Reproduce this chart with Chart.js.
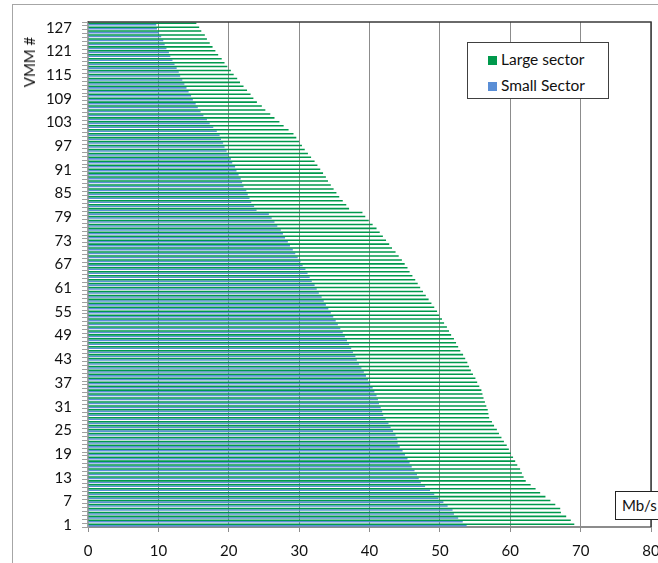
<!DOCTYPE html>
<html>
<head>
<meta charset="utf-8">
<script src="https://cdn.jsdelivr.net/npm/chart.js@4"></script>
<style>
  html, body { margin: 0; padding: 0; background: #fff; overflow: hidden; }
  body { width: 658px; height: 563px; position: relative; font-family: Lato, "Open Sans", sans-serif; }
  #frame { position: absolute; left: 12px; top: 4px; width: 720px; height: 620px; border: 1.5px solid #a6a6a6; }
  #wrap { position: absolute; left: 0; top: 0; width: 700px; height: 563px; }
  #ytitle { position: absolute; left: 29px; top: 62px; transform: translate(-50%, -50%) rotate(-90deg); font-size: 15px; color: #111; white-space: nowrap; }
  #legend { position: absolute; left: 467px; top: 42px; width: 140px; height: 55px; border: 1px solid #404040; background: #fff; }
  .item { position: absolute; left: 20px; font-size: 15.5px; color: #111; white-space: nowrap; line-height: 15px; }
  .item i { display: inline-block; width: 9px; height: 9px; margin-right: 4px; vertical-align: 0px; }
  #unit { position: absolute; left: 615px; top: 491px; width: 100px; height: 27px; border: 1px solid #222; background: #fff; font-size: 15px; line-height: 27px; padding-left: 6px; color: #111; }
</style>
</head>
<body>
<div id="frame"></div>
<div id="wrap"><canvas id="chart" width="700" height="563"></canvas></div>
<div id="ytitle">VMM #</div>
<div id="legend">
  <div class="item" style="top:9px"><i style="background:#00994c"></i>Large sector</div>
  <div class="item" style="top:35px"><i style="background:#5a8ed6"></i>Small Sector</div>
</div>
<div id="unit">Mb/s</div>
<script>
// VMM 1 .. 128, bottom to top
const vmmIds = Array.from({ length: 128 }, (_, i) => String(i + 1));
const shownTicks = ['1', '7', '13', '19', '25', '31', '37', '43', '49', '55', '61', '67', '73', '79', '85', '91', '97', '103', '109', '115', '121', '127'];

// throughput per VMM, Mb/s
const largeSector = [
  69.1, 68.6, 67.95, 67.2, 67.1, 66.4, 65.7, 65.0, 64.25, 63.6, 62.9, 62.2, 61.9, 61.65, 61.4, 61.0,
  60.7, 60.4, 60.1, 59.8, 59.5, 59.1, 58.75, 58.4, 58.1, 57.7, 57.4, 57.0, 56.9, 56.8, 56.6, 56.4,
  56.2, 56.05, 55.9, 55.6, 55.3, 55.05, 54.7, 54.4, 54.15, 53.9, 53.6, 53.3, 52.9, 52.6, 52.3, 52.0,
  51.6, 51.3, 51.0, 50.6, 50.3, 49.9, 49.6, 49.2, 48.8, 48.4, 48.0, 47.6, 47.2, 46.85, 46.5, 46.1,
  45.7, 45.4, 45.0, 44.6, 44.15, 43.7, 43.2, 42.8, 42.35, 41.9, 41.45, 41.0, 40.45, 39.9, 39.4, 39.0,
  37.1, 36.7, 36.2, 35.7, 35.3, 34.9, 34.5, 34.1, 33.8, 33.4, 33.0, 32.6, 32.2, 31.7, 31.25, 30.8,
  30.4, 30.0, 29.6, 29.2, 28.5, 27.8, 27.2, 26.5, 25.9, 25.2, 24.7, 24.0, 23.5, 23.1, 22.6, 22.1,
  21.6, 21.2, 20.7, 20.3, 19.8, 19.4, 19.0, 18.5, 18.1, 17.7, 17.3, 16.9, 16.6, 16.1, 15.8, 15.4
];
const smallSector = [
  53.8, 53.25, 52.6, 52.0, 51.8, 51.1, 50.5, 49.8, 49.2, 48.6, 47.9, 47.3, 47.0, 46.75, 46.4, 46.0,
  45.7, 45.4, 45.05, 44.7, 44.3, 44.0, 43.95, 43.7, 43.35, 43.0, 42.7, 42.3, 41.95, 41.8, 41.6, 41.35,
  41.2, 41.0, 40.7, 40.45, 40.1, 39.8, 39.5, 39.2, 38.85, 38.5, 38.2, 38.0, 37.65, 37.4, 37.1, 36.8,
  36.5, 36.2, 35.85, 35.5, 35.2, 34.85, 34.5, 34.15, 33.8, 33.5, 33.2, 32.8, 32.5, 32.2, 31.8, 31.5,
  31.2, 30.9, 30.5, 30.2, 29.8, 29.45, 29.1, 28.7, 28.4, 28.0, 27.7, 27.4, 26.9, 26.5, 26.1, 25.7,
  23.95, 23.6, 23.2, 22.95, 22.7, 22.5, 22.1, 21.9, 21.7, 21.4, 21.1, 20.9, 20.5, 20.3, 20.0, 19.7,
  19.4, 19.2, 18.9, 18.7, 18.3, 17.8, 17.3, 16.9, 16.4, 16.0, 15.6, 15.3, 14.9, 14.65, 14.3, 14.0,
  13.7, 13.4, 13.1, 12.9, 12.6, 12.3, 12.0, 11.7, 11.5, 11.15, 10.9, 10.7, 10.4, 10.1, 9.8, 9.7
];

const GREEN = '#00994c';
const BLUE = '#5a8ed6';
const FONT = { family: 'Lato, "Open Sans", sans-serif', size: 15 };

// dark frame on the top and right side of the plot
const plotFrame = {
  id: 'plotFrame',
  afterDraw(chart) {
    const { ctx, chartArea: a } = chart;
    ctx.save();
    ctx.strokeStyle = '#3a3a3a';
    ctx.lineWidth = 1.5;
    ctx.beginPath();
    ctx.moveTo(a.left, a.top);
    ctx.lineTo(a.right, a.top);
    ctx.lineTo(a.right, a.bottom);
    ctx.stroke();
    ctx.restore();
  }
};

new Chart(document.getElementById('chart'), {
  type: 'bar',
  data: {
    labels: vmmIds,
    datasets: [
      { label: 'Large sector', data: largeSector, backgroundColor: GREEN, categoryPercentage: 0.78, barPercentage: 1 },
      { label: 'Small Sector', data: smallSector, backgroundColor: BLUE, categoryPercentage: 0.78, barPercentage: 1 }
    ]
  },
  options: {
    indexAxis: 'y',
    responsive: false,
    animation: false,
    layout: { padding: { top: 22, right: 49, left: 0, bottom: 0 } },
    plugins: { legend: { display: false }, tooltip: { enabled: false } },
    scales: {
      x: {
        min: 0,
        max: 80,
        ticks: { stepSize: 10, color: '#111', font: FONT, padding: 10 },
        grid: { color: '#8c8c8c', lineWidth: 1, tickLength: 5 },
        border: { color: '#8c8c8c', width: 2 },
        afterFit: s => { s.height = 36; }
      },
      y: {
        reverse: true,
        ticks: {
          autoSkip: false,
          color: '#111',
          font: FONT,
          padding: 10,
          callback(value) {
            const lbl = this.getLabelForValue(value);
            return shownTicks.includes(lbl) ? lbl : '';
          }
        },
        grid: { drawOnChartArea: false, color: '#a0a0a0', tickLength: 6 },
        border: { color: '#a0a0a0', width: 2 },
        afterFit: s => { s.width = 88; }
      }
    }
  },
  plugins: [plotFrame]
});
</script>
</body>
</html>
